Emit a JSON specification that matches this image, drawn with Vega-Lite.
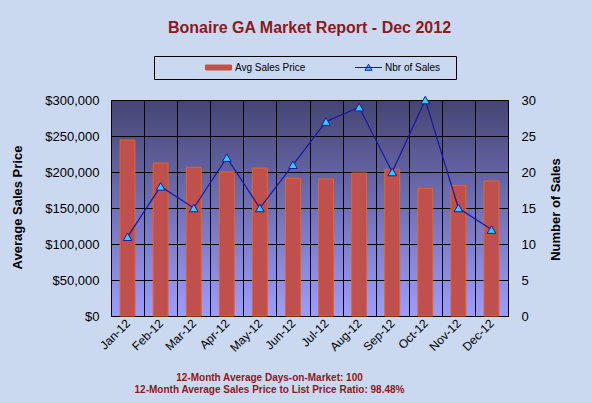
{
  "$schema": "https://vega.github.io/schema/vega-lite/v6.json",
  "width": 397,
  "height": 216,
  "autosize": "none",
  "padding": {"left": 111, "top": 100, "right": 84, "bottom": 87},
  "background": "#cad8f0",
  "title": {
    "text": "Bonaire GA Market Report - Dec 2012",
    "font": "Liberation Sans",
    "fontSize": 16,
    "fontWeight": "bold",
    "color": "#8b1a1a",
    "anchor": "middle",
    "offset": 20
  },
  "data": {
    "values": [
      {"month": "Jan-12", "price": 244500, "sales": 11},
      {"month": "Feb-12", "price": 212500, "sales": 18},
      {"month": "Mar-12", "price": 206500, "sales": 15},
      {"month": "Apr-12", "price": 200000, "sales": 22},
      {"month": "May-12", "price": 205500, "sales": 15},
      {"month": "Jun-12", "price": 191200, "sales": 21},
      {"month": "Jul-12", "price": 190300, "sales": 27},
      {"month": "Aug-12", "price": 198600, "sales": 29},
      {"month": "Sep-12", "price": 203700, "sales": 20},
      {"month": "Oct-12", "price": 177300, "sales": 30},
      {"month": "Nov-12", "price": 181500, "sales": 15},
      {"month": "Dec-12", "price": 187500, "sales": 12}
    ]
  },
  "view": {
    "fill": {
      "gradient": "linear",
      "x1": 0, "y1": 0, "x2": 0, "y2": 1,
      "stops": [
        {"offset": 0, "color": "#454573"},
        {"offset": 1, "color": "#9d9dff"}
      ]
    },
    "stroke": "black",
    "strokeWidth": 1
  },
  "encoding": {
    "x": {
      "field": "month",
      "type": "ordinal",
      "sort": null,
      "scale": {"paddingInner": 0, "paddingOuter": 0},
      "axis": {
        "title": ["12-Month Average Days-on-Market: 100", "12-Month Average Sales Price to List Price Ratio: 98.48%"],
        "titleFont": "Liberation Sans",
        "titleFontSize": 10,
        "titleFontWeight": "bold",
        "titleColor": "#8b1a1a",
        "titleLineHeight": 12.5,
        "titleX": 158,
        "titleY": 56,
        "titleBaseline": "top",
        "titleAlign": "center",
        "labelAngle": -45,
        "labelAlign": "right",
        "labelBaseline": "middle",
        "labelFont": "Liberation Sans",
        "labelFontSize": 12,
        "labelColor": "black",
        "labelPadding": 5,
        "ticks": false,
        "domain": false,
        "grid": true,
        "gridColor": "black",
        "gridOpacity": 1,
        "gridWidth": 1,
        "tickBand": "extent"
      }
    }
  },
  "layer": [
    {
      "mark": {"type": "bar", "width": {"band": 0.45}, "stroke": "#e8641b", "strokeWidth": 1},
      "encoding": {
        "y": {
          "field": "price",
          "type": "quantitative",
          "scale": {"domain": [0, 300000], "nice": false},
          "axis": {
            "title": "Average Sales Price",
            "titleFont": "Liberation Sans",
            "titleFontSize": 13,
            "titleFontWeight": "bold",
            "titleColor": "black",
            "titleAngle": 270,
            "titleX": -94,
            "titleY": 107,
            "titleAlign": "center",
            "titleBaseline": "middle",
            "format": "$,.0f",
            "values": [0, 50000, 100000, 150000, 200000, 250000, 300000],
            "labelFont": "Liberation Sans",
            "labelFontSize": 13,
            "labelColor": "black",
            "labelPadding": 12,
            "ticks": false,
            "domain": false,
            "grid": true,
            "gridColor": "black",
            "gridOpacity": 1,
            "gridWidth": 1
          }
        },
        "fill": {
          "datum": "Avg Sales Price",
          "type": "nominal",
          "scale": {"domain": ["Avg Sales Price"], "range": ["#c0504d"]},
          "legend": {
            "orient": "none",
            "legendX": 43,
            "legendY": -44,
            "direction": "horizontal",
            "title": " ",
            "titleOrient": "right",
            "titleFontSize": 10,
            "titlePadding": 145,
            "strokeColor": "black",
            "padding": 6,
            "symbolOffset": 53,
            "symbolType": "M-2.6,-0.5H2.6V0.5H-2.6Z",
            "symbolSize": 100,
            "symbolFillColor": "#d2552a",
            "symbolStrokeColor": "#d2552a",
            "symbolStrokeWidth": 1,
            "symbolOpacity": 1,
            "labelOffset": 11,
            "labelFont": "Liberation Sans",
            "labelFontSize": 10,
            "labelColor": "black"
          }
        }
      }
    },
    {
      "encoding": {
        "y": {
          "field": "sales",
          "type": "quantitative",
          "scale": {"domain": [0, 30], "nice": false},
          "axis": {
            "orient": "right",
            "title": "Number of Sales",
            "titleFont": "Liberation Sans",
            "titleFontSize": 13,
            "titleFontWeight": "bold",
            "titleColor": "black",
            "titleAngle": 270,
            "titleX": 47,
            "titleY": 109,
            "titleAlign": "center",
            "titleBaseline": "middle",
            "values": [0, 5, 10, 15, 20, 25, 30],
            "labelFont": "Liberation Sans",
            "labelFontSize": 13,
            "labelColor": "black",
            "labelPadding": 13,
            "ticks": false,
            "domain": false,
            "grid": false
          }
        }
      },
      "layer": [
        {
          "mark": {"type": "line", "strokeWidth": 1.2},
          "encoding": {
            "stroke": {
              "datum": "Nbr of Sales",
              "type": "nominal",
              "scale": {"domain": ["Nbr of Sales"], "range": ["#1a1aa0"]},
              "legend": {
                "orient": "none",
                "legendX": 252,
                "legendY": -38,
                "direction": "horizontal",
                "title": null,
                "padding": 0,
                "symbolType": "M-2.7,0H2.7M0,-0.65L0.7,0.55L-0.7,0.55Z",
                "symbolSize": 100,
                "symbolFillColor": "#33ccff",
                "symbolStrokeColor": "#1a1aa0",
                "symbolStrokeWidth": 1,
                "symbolOpacity": 1,
                "labelOffset": 11,
                "labelFont": "Liberation Sans",
                "labelFontSize": 10,
                "labelColor": "black"
              }
            }
          }
        },
        {
          "mark": {"type": "point", "shape": "triangle-up", "filled": true, "fill": "#33ccff", "stroke": "#1a1aa0", "strokeWidth": 1, "size": 75, "opacity": 1}
        }
      ]
    }
  ],
  "resolve": {"scale": {"y": "independent"}}
}
